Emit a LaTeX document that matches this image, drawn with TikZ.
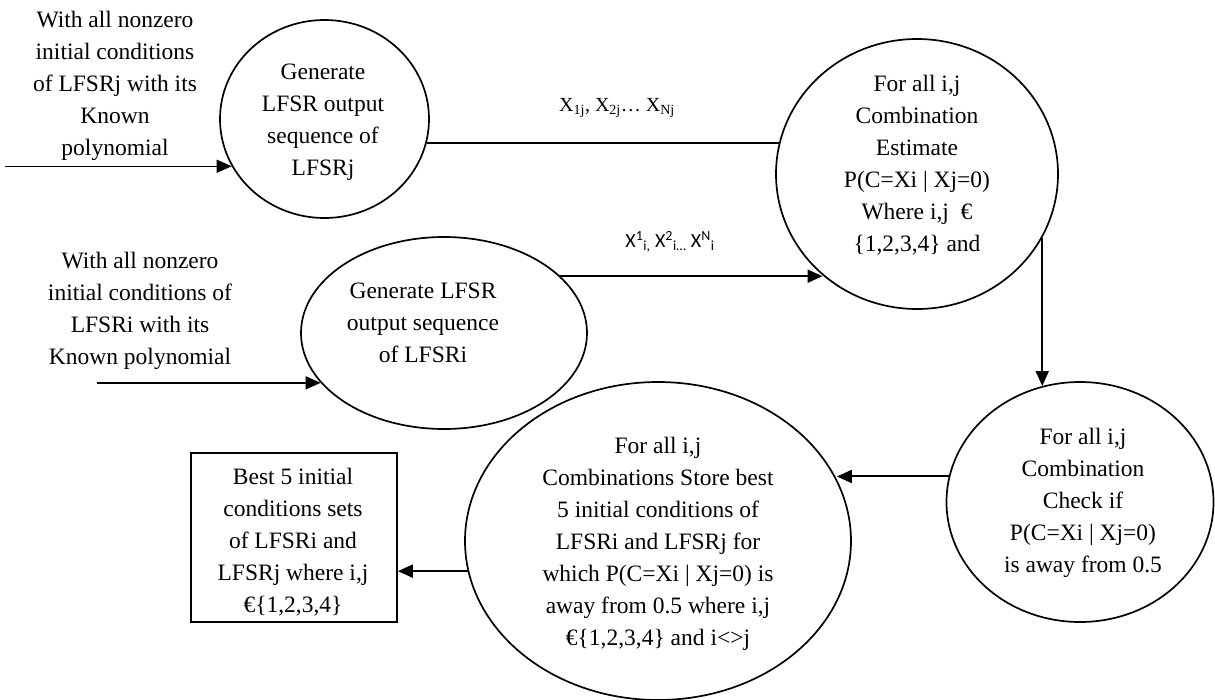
\documentclass[tikz,border=0pt]{standalone}
\usepackage{fontspec}
\setmainfont{Liberation Serif}
\newfontfamily\labelsans{Carlito}
\usetikzlibrary{shapes.geometric,arrows.meta}
\begin{document}
\begin{tikzpicture}[x=1pt,y=-1pt,
  stage/.style={ellipse,draw,line width=1.7pt,inner sep=0pt},
  result/.style={rectangle,draw,line width=1.7pt,inner sep=0pt},
  body/.style={align=center,font=\fontsize{23.5}{32}\selectfont,inner sep=0pt},
  seq/.style={inner sep=0pt,font=\fontsize{20}{24}\selectfont},
  flow/.style={line width=2pt,-{Triangle[length=15pt,width=13pt]}},
  link/.style={line width=2pt}]
\useasboundingbox (0,0) rectangle (1215,699);

% process shapes
\node[stage,minimum width=209pt,minimum height=198pt] (A) at (324.5,119) {};
\node[stage,minimum width=282pt,minimum height=270pt] (B) at (917,174) {};
\node[stage,minimum width=286pt,minimum height=192pt] (C) at (444,333) {};
\node[stage,minimum width=267pt,minimum height=240pt] (D) at (1080,502) {};
\node[stage,minimum width=386pt,minimum height=318pt] (E) at (658,541) {};
\node[result,minimum width=206pt,minimum height=169pt] (F) at (294,537.5) {};

% texts
\node[body] (tJ) at (115,86) {With all nonzero\\initial conditions\\of LFSRj with its\\Known\\polynomial};
\node[body] (tI) at (140,311) {With all nonzero\\initial conditions of\\LFSRi with its\\Known polynomial};
\node[body] (tA) at (323,122) {Generate\\LFSR output\\sequence of\\LFSRj};
\node[body] (tB) at (917,165) {For all i,j\\Combination\\Estimate\\P(C=Xi | Xj=0)\\Where i,j \ €\\\{1,2,3,4\} and};
\node[body] (tC) at (423,323) {Generate LFSR\\output sequence\\of LFSRi};
\node[body] (tD) at (1083,503) {For all i,j\\Combination\\Check if\\P(C=Xi | Xj=0)\\is away from 0.5};
\node[body] (tE) at (658,544) {For all i,j\\Combinations Store best\\5 initial conditions of\\LFSRi and LFSRj for\\which P(C=Xi | Xj=0) is\\away from 0.5 where i,j\\€\{1,2,3,4\} and i<>j};
\node[body] (tF) at (293,542) {Best 5 initial\\conditions sets\\of LFSRi and\\LFSRj where i,j\\€\{1,2,3,4\}};

% sequence labels
\node[seq] (sJ) at (617,108) {X\textsubscript{1j}, X\textsubscript{2j}… X\textsubscript{Nj}};
\node[seq,font=\labelsans\fontsize{20}{24}\selectfont] (sI) at (670,242)
  {X\textsuperscript{1}\textsubscript{i,} X\textsuperscript{2}\textsubscript{i…} X\textsuperscript{N}\textsubscript{i}};

% free ends of the input lines
\coordinate (inJ) at (5,166);
\coordinate (inI) at (97,383);

% connectors
\draw[flow,line width=1.5pt] (inJ |- A.207.1) -- (A.207.1);
\draw[flow,line width=1.5pt] (inI |- C.202.3) -- (C.202.3);
\draw[link] (A.347.8) -- (A.347.8 -| B.166.4);
\draw[flow] (C.26.34) -- (C.26.34 -| B.227.8);
\draw[flow] (B.333.4) -- (B.333.4 |- D.108.3);
\draw[flow] (D.169.6) -- (D.169.6 -| E.19.57);
\draw[flow] (E.189.9) -- (E.189.9 -| F.east);
\end{tikzpicture}
\end{document}
